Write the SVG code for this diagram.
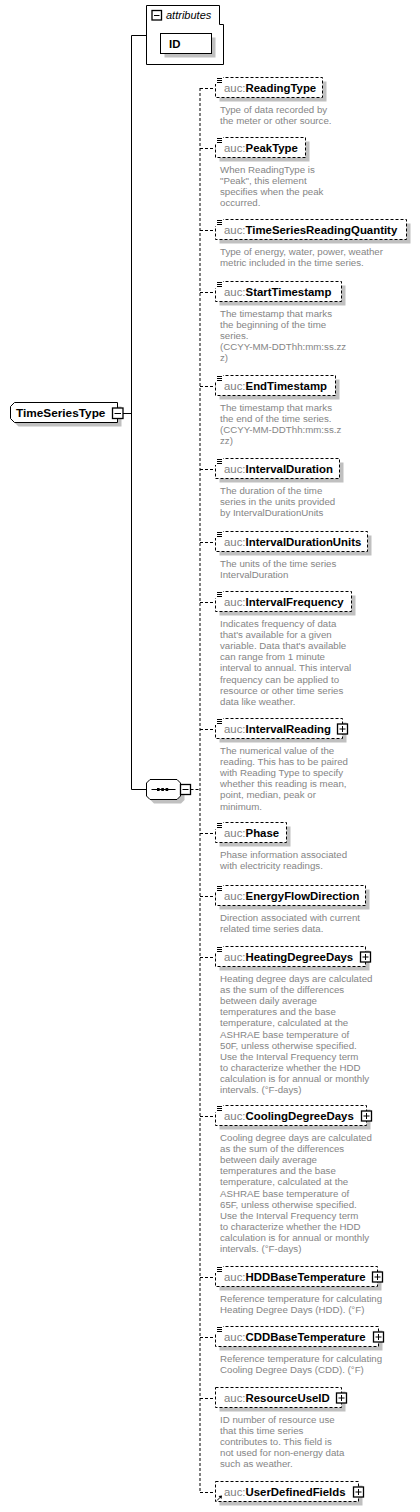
<svg xmlns="http://www.w3.org/2000/svg" width="420" height="1512" viewBox="0 0 420 1512">
<style>
.sh{fill:#c0c0c0}
.bx{fill:#fff;stroke:#000;stroke-width:1;stroke-dasharray:3 2}
.sb{fill:#fff;stroke:#000;stroke-width:1}
.pm{fill:#fff;stroke:#000;stroke-width:1.3}
.ln{stroke:#000;stroke-width:1;fill:none}
.dl{stroke:#000;stroke-width:1;fill:none;stroke-dasharray:3 2}
.nm{font-family:"Liberation Sans",Arial,sans-serif;font-size:11.4px;font-weight:bold;fill:#000}
.ns{font-weight:normal;fill:#808080}
.ds{font-family:"Liberation Sans",Arial,sans-serif;font-size:9.7px;fill:#858585}
.ic{stroke:#000;stroke-width:1}
</style>
<g id="connectors">
<path class="ln" d="M131.5,35.5V789.5M131.5,35.5H146.5M123,413.5H131.5M131.5,789.5H146.5"/>
<path class="dl" d="M190.5,789.5H200M200,88V1492.5"/>
<path class="dl" d="M200,88.5H215.5M200,148.5H215.5M200,230.5H215.5M200,292.5H215.5M200,386.5H215.5M200,469.5H215.5M200,542.5H215.5M200,602.5H215.5M200,729.5H215.5M200,833.5H215.5M200,896.5H215.5M200,957.5H215.5M200,1116.5H215.5M200,1277.5H215.5M200,1337.5H215.5M200,1398.5H215.5M200,1492.5H215.5"/>
</g>
<g id="attributes">
<path class="sb" d="M146.5,5.5H219.5V24.5H223.5V64.5H146.5Z"/>
<rect class="pm" x="152" y="10.5" width="9.5" height="9.5"/>
<path class="ic" d="M154,15.5H159.5"/>
<text x="166" y="19" style="font-family:'Liberation Sans',Arial,sans-serif;font-size:11px;font-style:italic;fill:#000">attributes</text>
</g>
<g id="ID">
<rect class="sh" x="164.5" y="37.5" width="51" height="20"/>
<rect class="sb" x="160.5" y="33.5" width="51" height="20"/>
<text class="nm" x="169" y="47.5">ID</text>
</g>
<g id="TimeSeriesType">
<polygon class="sh" points="18.5,406.5 121.5,406.5 121.5,426.5 18.5,426.5 14.5,422.5 14.5,410.5"/>
<polygon class="sb" points="14.5,402.5 117.5,402.5 117.5,422.5 14.5,422.5 10.5,418.5 10.5,406.5"/>
<text class="nm" x="16" y="416.5" style="font-size:11.8px">TimeSeriesType</text>
<rect class="pm" x="112.5" y="408" width="10.5" height="10.5"/>
<path class="ic" d="M114.5,413.5H121"/>
</g>
<g id="sequence">
<polygon class="sh" points="154,783.5 181,783.5 184.5,787 184.5,800 181,803.5 154,803.5 150.5,800 150.5,787"/>
<polygon class="sb" points="150,779.5 177,779.5 180.5,783 180.5,796 177,799.5 150,799.5 146.5,796 146.5,783"/>
<path class="ic" d="M151.5,789.5H175.5"/>
<rect x="157" y="788" width="2.6" height="3" fill="#000"/>
<rect x="161.3" y="788" width="2.6" height="3" fill="#000"/>
<rect x="165.6" y="788" width="2.6" height="3" fill="#000"/>
<rect class="pm" x="180.5" y="784.5" width="10" height="10"/>
<path class="ic" d="M182.5,789.5H188.5"/>
</g>
<defs>
<g id="lst"><rect x="215" y="-11" width="8" height="7" fill="#fff"/><path class="ic" d="M217,-9.5H222M217,-7.5H222M217,-5.5H222"/></g>
</defs>
<g id="ReadingType" transform="translate(0,88)">
<rect class="sh" x="219.5" y="-6.5" width="107" height="20"/>
<rect class="bx" x="215.5" y="-10.5" width="107" height="20"/>
<use href="#lst"/>
<text class="nm" x="224" y="4"><tspan class="ns">auc:</tspan>ReadingType</text>
<text class="ds" x="220" y="25">Type of data recorded by</text>
<text class="ds" x="220" y="36.1">the meter or other source.</text>
</g>
<g id="PeakType" transform="translate(0,148)">
<rect class="sh" x="219.5" y="-6.5" width="90" height="20"/>
<rect class="bx" x="215.5" y="-10.5" width="90" height="20"/>
<use href="#lst"/>
<text class="nm" x="224" y="4"><tspan class="ns">auc:</tspan>PeakType</text>
<text class="ds" x="220" y="25">When ReadingType is</text>
<text class="ds" x="220" y="36.1">"Peak", this element</text>
<text class="ds" x="220" y="47.2">specifies when the peak</text>
<text class="ds" x="220" y="58.3">occurred.</text>
</g>
<g id="TimeSeriesReadingQuantity" transform="translate(0,230)">
<rect class="sh" x="219.5" y="-6.5" width="191" height="20"/>
<rect class="bx" x="215.5" y="-10.5" width="191" height="20"/>
<use href="#lst"/>
<text class="nm" x="224" y="4"><tspan class="ns">auc:</tspan>TimeSeriesReadingQuantity</text>
<text class="ds" x="220" y="25">Type of energy, water, power, weather</text>
<text class="ds" x="220" y="36.1">metric included in the time series.</text>
</g>
<g id="StartTimestamp" transform="translate(0,292)">
<rect class="sh" x="219.5" y="-6.5" width="126" height="20"/>
<rect class="bx" x="215.5" y="-10.5" width="126" height="20"/>
<use href="#lst"/>
<text class="nm" x="224" y="4"><tspan class="ns">auc:</tspan>StartTimestamp</text>
<text class="ds" x="220" y="25">The timestamp that marks</text>
<text class="ds" x="220" y="36.1">the beginning of the time</text>
<text class="ds" x="220" y="47.2">series.</text>
<text class="ds" x="220" y="58.3">(CCYY-MM-DDThh:mm:ss.zz</text>
<text class="ds" x="220" y="69.4">z)</text>
</g>
<g id="EndTimestamp" transform="translate(0,386)">
<rect class="sh" x="219.5" y="-6.5" width="120" height="20"/>
<rect class="bx" x="215.5" y="-10.5" width="120" height="20"/>
<use href="#lst"/>
<text class="nm" x="224" y="4"><tspan class="ns">auc:</tspan>EndTimestamp</text>
<text class="ds" x="220" y="25">The timestamp that marks</text>
<text class="ds" x="220" y="36.1">the end of the time series.</text>
<text class="ds" x="220" y="47.2">(CCYY-MM-DDThh:mm:ss.z</text>
<text class="ds" x="220" y="58.3">zz)</text>
</g>
<g id="IntervalDuration" transform="translate(0,469)">
<rect class="sh" x="219.5" y="-6.5" width="124" height="20"/>
<rect class="bx" x="215.5" y="-10.5" width="124" height="20"/>
<use href="#lst"/>
<text class="nm" x="224" y="4"><tspan class="ns">auc:</tspan>IntervalDuration</text>
<text class="ds" x="220" y="25">The duration of the time</text>
<text class="ds" x="220" y="36.1">series in the units provided</text>
<text class="ds" x="220" y="47.2">by IntervalDurationUnits</text>
</g>
<g id="IntervalDurationUnits" transform="translate(0,542)">
<rect class="sh" x="219.5" y="-6.5" width="152" height="20"/>
<rect class="bx" x="215.5" y="-10.5" width="152" height="20"/>
<use href="#lst"/>
<text class="nm" x="224" y="4"><tspan class="ns">auc:</tspan>IntervalDurationUnits</text>
<text class="ds" x="220" y="25">The units of the time series</text>
<text class="ds" x="220" y="36.1">IntervalDuration</text>
</g>
<g id="IntervalFrequency" transform="translate(0,602)">
<rect class="sh" x="219.5" y="-6.5" width="136" height="20"/>
<rect class="bx" x="215.5" y="-10.5" width="136" height="20"/>
<use href="#lst"/>
<text class="nm" x="224" y="4"><tspan class="ns">auc:</tspan>IntervalFrequency</text>
<text class="ds" x="220" y="25">Indicates frequency of data</text>
<text class="ds" x="220" y="36.1">that's available for a given</text>
<text class="ds" x="220" y="47.2">variable. Data that's available</text>
<text class="ds" x="220" y="58.3">can range from 1 minute</text>
<text class="ds" x="220" y="69.4">interval to annual. This interval</text>
<text class="ds" x="220" y="80.5">frequency can be applied to</text>
<text class="ds" x="220" y="91.6">resource or other time series</text>
<text class="ds" x="220" y="102.7">data like weather.</text>
</g>
<g id="IntervalReading" transform="translate(0,729)">
<rect class="sh" x="219.5" y="-6.5" width="127" height="20"/>
<rect class="bx" x="215.5" y="-10.5" width="127" height="20"/>
<use href="#lst"/>
<text class="nm" x="224" y="4"><tspan class="ns">auc:</tspan>IntervalReading</text>
<rect class="pm" x="337.5" y="-5" width="10" height="10"/>
<path class="ic" d="M339.5,0H345.5M342.5,-3V3"/>
<text class="ds" x="220" y="25">The numerical value of the</text>
<text class="ds" x="220" y="36.1">reading. This has to be paired</text>
<text class="ds" x="220" y="47.2">with Reading Type to specify</text>
<text class="ds" x="220" y="58.3">whether this reading is mean,</text>
<text class="ds" x="220" y="69.4">point, median, peak or</text>
<text class="ds" x="220" y="80.5">minimum.</text>
</g>
<g id="Phase" transform="translate(0,833)">
<rect class="sh" x="219.5" y="-6.5" width="71" height="20"/>
<rect class="bx" x="215.5" y="-10.5" width="71" height="20"/>
<use href="#lst"/>
<text class="nm" x="224" y="4"><tspan class="ns">auc:</tspan>Phase</text>
<text class="ds" x="220" y="25">Phase information associated</text>
<text class="ds" x="220" y="36.1">with electricity readings.</text>
</g>
<g id="EnergyFlowDirection" transform="translate(0,896)">
<rect class="sh" x="219.5" y="-6.5" width="150" height="20"/>
<rect class="bx" x="215.5" y="-10.5" width="150" height="20"/>
<use href="#lst"/>
<text class="nm" x="224" y="4"><tspan class="ns">auc:</tspan>EnergyFlowDirection</text>
<text class="ds" x="220" y="25">Direction associated with current</text>
<text class="ds" x="220" y="36.1">related time series data.</text>
</g>
<g id="HeatingDegreeDays" transform="translate(0,957)">
<rect class="sh" x="219.5" y="-6.5" width="150" height="20"/>
<rect class="bx" x="215.5" y="-10.5" width="150" height="20"/>
<use href="#lst"/>
<text class="nm" x="224" y="4"><tspan class="ns">auc:</tspan>HeatingDegreeDays</text>
<rect class="pm" x="360.5" y="-5" width="10" height="10"/>
<path class="ic" d="M362.5,0H368.5M365.5,-3V3"/>
<text class="ds" x="220" y="25">Heating degree days are calculated</text>
<text class="ds" x="220" y="36.1">as the sum of the differences</text>
<text class="ds" x="220" y="47.2">between daily average</text>
<text class="ds" x="220" y="58.3">temperatures and the base</text>
<text class="ds" x="220" y="69.4">temperature, calculated at the</text>
<text class="ds" x="220" y="80.5">ASHRAE base temperature of</text>
<text class="ds" x="220" y="91.6">50F, unless otherwise specified.</text>
<text class="ds" x="220" y="102.7">Use the Interval Frequency term</text>
<text class="ds" x="220" y="113.8">to characterize whether the HDD</text>
<text class="ds" x="220" y="124.9">calculation is for annual or monthly</text>
<text class="ds" x="220" y="136">intervals. (°F-days)</text>
</g>
<g id="CoolingDegreeDays" transform="translate(0,1116)">
<rect class="sh" x="219.5" y="-6.5" width="151" height="20"/>
<rect class="bx" x="215.5" y="-10.5" width="151" height="20"/>
<use href="#lst"/>
<text class="nm" x="224" y="4"><tspan class="ns">auc:</tspan>CoolingDegreeDays</text>
<rect class="pm" x="361.5" y="-5" width="10" height="10"/>
<path class="ic" d="M363.5,0H369.5M366.5,-3V3"/>
<text class="ds" x="220" y="25">Cooling degree days are calculated</text>
<text class="ds" x="220" y="36.1">as the sum of the differences</text>
<text class="ds" x="220" y="47.2">between daily average</text>
<text class="ds" x="220" y="58.3">temperatures and the base</text>
<text class="ds" x="220" y="69.4">temperature, calculated at the</text>
<text class="ds" x="220" y="80.5">ASHRAE base temperature of</text>
<text class="ds" x="220" y="91.6">65F, unless otherwise specified.</text>
<text class="ds" x="220" y="102.7">Use the Interval Frequency term</text>
<text class="ds" x="220" y="113.8">to characterize whether the HDD</text>
<text class="ds" x="220" y="124.9">calculation is for annual or monthly</text>
<text class="ds" x="220" y="136">intervals. (°F-days)</text>
</g>
<g id="HDDBaseTemperature" transform="translate(0,1277)">
<rect class="sh" x="219.5" y="-6.5" width="162" height="20"/>
<rect class="bx" x="215.5" y="-10.5" width="162" height="20"/>
<use href="#lst"/>
<text class="nm" x="224" y="4"><tspan class="ns">auc:</tspan>HDDBaseTemperature</text>
<rect class="pm" x="372.5" y="-5" width="10" height="10"/>
<path class="ic" d="M374.5,0H380.5M377.5,-3V3"/>
<text class="ds" x="220" y="25">Reference temperature for calculating</text>
<text class="ds" x="220" y="36.1">Heating Degree Days (HDD). (°F)</text>
</g>
<g id="CDDBaseTemperature" transform="translate(0,1337)">
<rect class="sh" x="219.5" y="-6.5" width="163" height="20"/>
<rect class="bx" x="215.5" y="-10.5" width="163" height="20"/>
<use href="#lst"/>
<text class="nm" x="224" y="4"><tspan class="ns">auc:</tspan>CDDBaseTemperature</text>
<rect class="pm" x="373.5" y="-5" width="10" height="10"/>
<path class="ic" d="M375.5,0H381.5M378.5,-3V3"/>
<text class="ds" x="220" y="25">Reference temperature for calculating</text>
<text class="ds" x="220" y="36.1">Cooling Degree Days (CDD). (°F)</text>
</g>
<g id="ResourceUseID" transform="translate(0,1398)">
<rect class="sh" x="219.5" y="-6.5" width="126" height="20"/>
<rect class="bx" x="215.5" y="-10.5" width="126" height="20"/>
<text class="nm" x="224" y="4"><tspan class="ns">auc:</tspan>ResourceUseID</text>
<rect class="pm" x="336.5" y="-5" width="10" height="10"/>
<path class="ic" d="M338.5,0H344.5M341.5,-3V3"/>
<text class="ds" x="220" y="25">ID number of resource use</text>
<text class="ds" x="220" y="36.1">that this time series</text>
<text class="ds" x="220" y="47.2">contributes to. This field is</text>
<text class="ds" x="220" y="58.3">not used for non-energy data</text>
<text class="ds" x="220" y="69.4">such as weather.</text>
</g>
<g id="UserDefinedFields" transform="translate(0,1492)">
<rect class="sh" x="219.5" y="-6.5" width="143" height="20"/>
<rect class="bx" x="215.5" y="-10.5" width="143" height="20"/>
<text class="nm" x="224" y="4"><tspan class="ns">auc:</tspan>UserDefinedFields</text>
<path class="ic" d="M217,8.5L221,4.5"/>
<polygon points="222,3.5 218.5,4 221.5,7" fill="#000"/>
<rect class="pm" x="353.5" y="-5" width="10" height="10"/>
<path class="ic" d="M355.5,0H361.5M358.5,-3V3"/>
</g>
</svg>
